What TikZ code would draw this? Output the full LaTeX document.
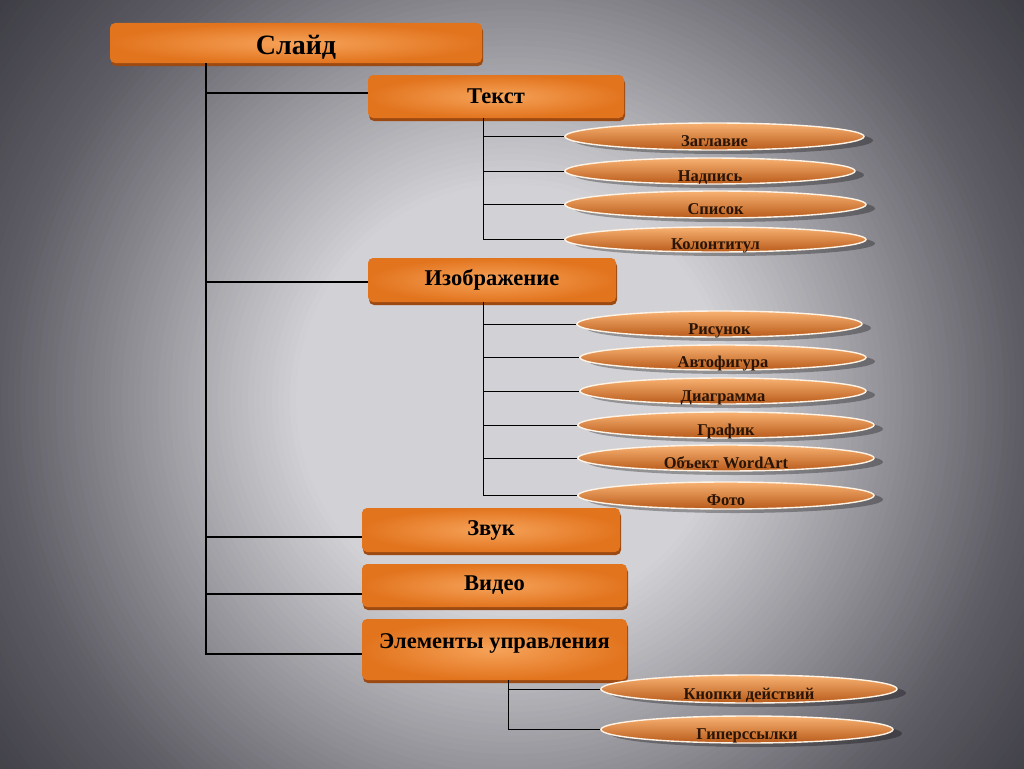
\documentclass[tikz,border=0pt]{standalone}
\usepackage{fontspec}
\setmainfont{Liberation Serif}
\usetikzlibrary{shapes.geometric,shadows}

\definecolor{bgin}{HTML}{D2D2D6}
\definecolor{bgmid}{HTML}{5E5C64}
\definecolor{bgout}{HTML}{3C3C44}
\definecolor{boxlight}{HTML}{F6A35A}
\definecolor{boxdark}{HTML}{E2741E}
\definecolor{boxshade}{HTML}{9C4A12}
\definecolor{leaftop}{HTML}{F8B272}
\definecolor{leafmid}{HTML}{E58236}
\definecolor{leafbot}{HTML}{B85A1A}
\definecolor{leafrim}{HTML}{FFF3E6}
\definecolor{leafink}{HTML}{2A1404}

\newcommand{\lowtext}[1]{\raisebox{-10pt}[0pt][0pt]{#1}}

\tikzset{
  box/.style={rectangle, rounded corners=5pt, inner sep=2pt, shading=radial,
    inner color=boxlight, outer color=boxdark,
    drop shadow={shadow xshift=1pt, shadow yshift=-3pt, fill=boxshade, opacity=1},
    font=\bfseries\fontsize{22.5}{26}\selectfont},
  leaf/.style={ellipse, inner sep=0pt, draw=leafrim, line width=1.4pt,
    top color=leaftop, middle color=leafmid, bottom color=leafbot,
    drop shadow={shadow xshift=9pt, shadow yshift=-4pt, fill=black, opacity=.3},
    text=leafink, font=\bfseries\fontsize{16.5}{19}\selectfont},
  trunk/.style={line width=2.6pt},
  twig/.style={line width=1pt}
}

\begin{document}
\begin{tikzpicture}[x=1pt, y=-1pt]
\useasboundingbox (0,0) rectangle (1024,768);
% background
\begin{scope}
\clip (0,0) rectangle (1024,768);
\fill[bgout] (0,0) rectangle (1024,768);
\foreach \r in {660,654,...,216} {
  \ifdim \r pt>512pt
    \pgfmathsetmacro\p{(\r-512)/148*100}
    \colorlet{ring}{bgout!\p!bgmid}
  \else
    \pgfmathsetmacro\p{(\r-216)/296*100}
    \colorlet{ring}{bgmid!\p!bgin}
  \fi
  \fill[ring] (512,400) circle (\r);
}
\end{scope}

\coordinate (T0) at (206,0);
\coordinate (T1) at (483,0);
\coordinate (T3) at (508,0);

% boxes
\node[box, minimum width=372pt, minimum height=40pt, text height=24pt, text depth=0pt, font=\bfseries\fontsize{28}{32}\selectfont] (slide) at (296,43) {Слайд};
\node[box, minimum width=256pt, minimum height=43pt] (text) at (496,96.5) {Текст};
\node[box, minimum width=248pt, minimum height=44pt] (image) at (492,280) {Изображение};
\node[box, minimum width=258pt, minimum height=44pt] (sound) at (491,530) {Звук};
\node[box, minimum width=265pt, minimum height=43pt] (video) at (494.5,585.5) {Видео};
\node[box, minimum width=265pt, minimum height=61pt, text depth=17pt] (ctrl) at (494.5,649.5) {Элементы управления};

% leaves
\begin{scope}[every node/.style={leaf}]
\node[minimum width=299pt, minimum height=27pt] (title) at (714.5,136.5) {\lowtext{Заглавие}};
\node[minimum width=290pt, minimum height=26pt] (caption) at (710,171) {\lowtext{Надпись}};
\node[minimum width=301pt, minimum height=27pt] (list) at (715.5,204.5) {\lowtext{Список}};
\node[minimum width=301pt, minimum height=25pt] (footer) at (715.5,239.5) {\lowtext{Колонтитул}};

\node[minimum width=285pt, minimum height=26pt] (picture) at (719.5,324) {\lowtext{Рисунок}};
\node[minimum width=286pt, minimum height=25pt] (shape) at (723,357.5) {\lowtext{Автофигура}};
\node[minimum width=286pt, minimum height=26pt] (chart) at (723,391) {\lowtext{Диаграмма}};
\node[minimum width=296pt, minimum height=26pt] (graph) at (726,425) {\lowtext{График}};
\node[minimum width=296pt, minimum height=26pt] (wordart) at (726,458) {\lowtext{Объект WordArt}};
\node[minimum width=296pt, minimum height=27pt] (photo) at (726,495.5) {\lowtext{Фото}};

\node[minimum width=296pt, minimum height=28pt] (buttons) at (749,689) {\lowtext{Кнопки действий}};
\node[minimum width=292pt, minimum height=27pt] (links) at (747,729.5) {\lowtext{Гиперссылки}};
\end{scope}

% main trunk
\coordinate (ctrl-in) at ([yshift=-4.5pt]ctrl.west);
\draw[trunk] (slide.south -| T0) |- (ctrl-in);
\foreach \b/\s in {text/3.5, image/-2, sound/-7, video/-8.5} {
  \coordinate (\b-in) at ([yshift=\s pt]\b.west);
  \draw[trunk] (\b-in -| T0) -- (\b-in);
}

% sub trees
\draw[twig] (text.south -| T1) |- (footer.west);
\foreach \e in {title, caption, list}
  \draw[twig] (\e.west -| T1) -- (\e.west);

\draw[twig] (image.south -| T1) |- (photo.west);
\foreach \e in {picture, shape, chart, graph, wordart}
  \draw[twig] (\e.west -| T1) -- (\e.west);

\draw[twig] (ctrl.south -| T3) |- (links.west);
\draw[twig] (buttons.west -| T3) -- (buttons.west);

\end{tikzpicture}
\end{document}
